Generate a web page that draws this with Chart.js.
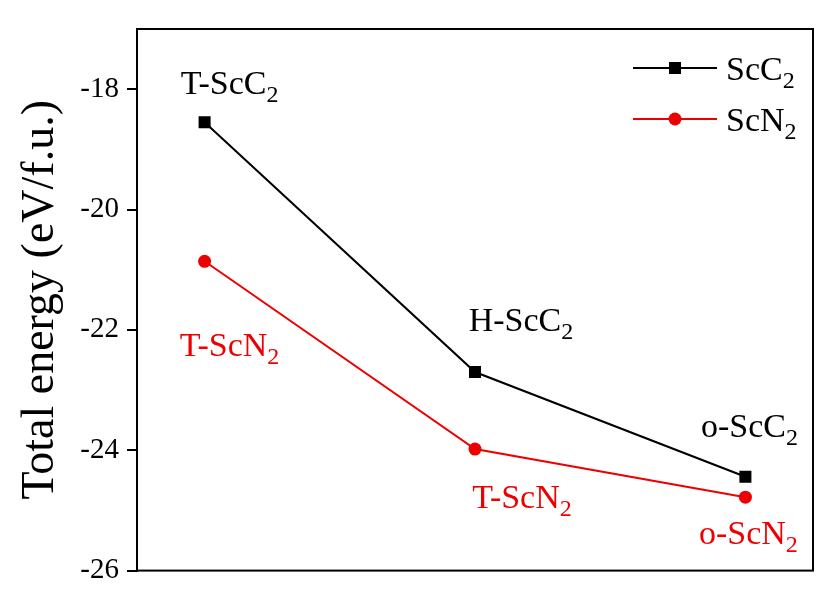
<!DOCTYPE html>
<html>
<head>
<meta charset="utf-8">
<script src="https://cdn.jsdelivr.net/npm/chart.js@4/dist/chart.umd.min.js"></script>
<style>
  body { margin: 0; background: #fff; }
  canvas { display: block; }
</style>
</head>
<body>
<canvas id="energyctr" width="838" height="596"></canvas>
<script>
// structures at x = 1, 2, 3
const positions = [1, 2, 3];
const scc2Energy = [-18.55, -22.70, -24.44];
const scn2Energy = [-20.86, -23.98, -24.78];
const scc2Names = ['T-ScC', 'H-ScC', 'o-ScC'];
const scn2Names = ['T-ScN', 'T-ScN', 'o-ScN'];
const yTicks = [-26, -24, -22, -20, -18];

const serif = "'Liberation Serif', 'Times New Roman', serif";

// label offsets from each point (px)
const scc2Offsets = [[25, -28], [46, -41], [4, -40]];
const scn2Offsets = [[25, 95], [47, 59], [3, 47]];

function subText(ctx, main, sub, cx, base, color) {
  ctx.save();
  ctx.fillStyle = color;
  ctx.textBaseline = 'alphabetic';
  ctx.textAlign = 'left';
  ctx.font = '34px ' + serif;
  const w1 = ctx.measureText(main).width;
  ctx.font = '24px ' + serif;
  const w2 = ctx.measureText(sub).width;
  const x0 = cx - (w1 + w2) / 2;
  ctx.font = '34px ' + serif;
  ctx.fillText(main, x0, base);
  ctx.font = '24px ' + serif;
  ctx.fillText(sub, x0 + w1, base + 8);
  ctx.restore();
}

const extras = {
  id: 'extras',
  afterDatasetsDraw(chart) {
    const ctx = chart.ctx;
    const a = chart.chartArea;
    // frame
    ctx.save();
    ctx.strokeStyle = '#000';
    ctx.lineWidth = 2;
    ctx.strokeRect(a.left, a.top, a.right - a.left, a.bottom - a.top);
    ctx.restore();

    // point labels
    const sets = [
      { meta: chart.getDatasetMeta(0), names: scc2Names, offs: scc2Offsets, color: '#000' },
      { meta: chart.getDatasetMeta(1), names: scn2Names, offs: scn2Offsets, color: '#ee0000' }
    ];
    sets.forEach(s => {
      s.meta.data.forEach((pt, i) => {
        subText(ctx, s.names[i], '2', pt.x + s.offs[i][0], pt.y + s.offs[i][1], s.color);
      });
    });

    // legend
    const items = [
      { name: 'ScC', color: '#000', y: 68, shape: 'rect' },
      { name: 'ScN', color: '#ee0000', y: 119, shape: 'circle' }
    ];
    items.forEach(it => {
      ctx.save();
      ctx.strokeStyle = it.color;
      ctx.fillStyle = it.color;
      ctx.lineWidth = 2;
      ctx.beginPath();
      ctx.moveTo(633, it.y);
      ctx.lineTo(717, it.y);
      ctx.stroke();
      if (it.shape === 'rect') {
        ctx.fillRect(675 - 6, it.y - 6, 12, 12);
      } else {
        ctx.beginPath();
        ctx.arc(675, it.y, 6.5, 0, Math.PI * 2);
        ctx.fill();
      }
      ctx.fillStyle = '#000';
      ctx.font = '34px ' + serif;
      ctx.textBaseline = 'alphabetic';
      const w = ctx.measureText(it.name).width;
      ctx.fillText(it.name, 726, it.y + 12);
      ctx.font = '24px ' + serif;
      ctx.fillText('2', 726 + w, it.y + 20);
      ctx.restore();
    });
  }
};

const energyChart = new Chart(document.getElementById('energyctr').getContext('2d'), {
  type: 'line',
  data: {
    datasets: [{
      label: 'ScC2',
      data: positions.map((x, i) => ({ x: x, y: scc2Energy[i] })),
      borderColor: '#000',
      backgroundColor: '#000',
      borderWidth: 2,
      pointStyle: 'rect',
      pointRadius: 8.5,
      pointBorderWidth: 0,
      tension: 0
    }, {
      label: 'ScN2',
      data: positions.map((x, i) => ({ x: x, y: scn2Energy[i] })),
      borderColor: '#ee0000',
      backgroundColor: '#ee0000',
      borderWidth: 2,
      pointStyle: 'circle',
      pointRadius: 6.5,
      pointBorderWidth: 0,
      tension: 0
    }]
  },
  options: {
    responsive: false,
    animation: false,
    layout: { padding: { left: 0, right: 25, top: 29, bottom: 22 } },
    plugins: {
      legend: { display: false },
      tooltip: { enabled: false }
    },
    scales: {
      x: {
        type: 'linear',
        min: 0.75,
        max: 3.25,
        display: false
      },
      y: {
        min: -26,
        max: -17,
        afterFit: s => { s.width = 137; },
        afterBuildTicks: s => { s.ticks = yTicks.map(v => ({ value: v })); },
        border: { display: true, color: '#000', width: 2 },
        grid: {
          drawOnChartArea: false,
          drawTicks: true,
          tickLength: 10,
          color: '#000',
          lineWidth: 2
        },
        ticks: {
          color: '#000',
          padding: 8,
          font: { family: serif, size: 29 }
        },
        title: {
          display: true,
          text: 'Total energy (eV/f.u.)',
          color: '#000',
          padding: { top: 13, bottom: 0 },
          font: { family: serif, size: 46 }
        }
      }
    }
  },
  plugins: [extras]
});
</script>
</body>
</html>
